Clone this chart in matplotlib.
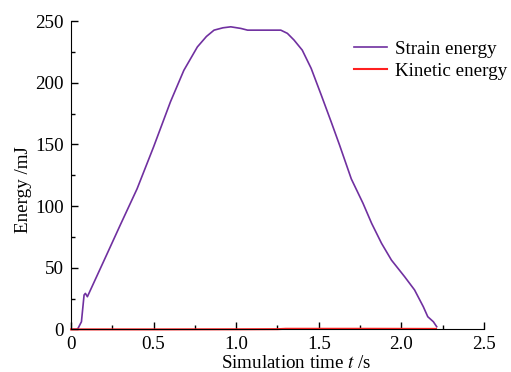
import numpy as np
import matplotlib.pyplot as plt
from matplotlib.ticker import MultipleLocator, FuncFormatter

# Strain energy curve
t_strain = [0.0, 0.035, 0.043, 0.063, 0.079, 0.087, 0.099, 0.215, 0.298, 0.40, 0.50,
            0.602, 0.683, 0.765, 0.82, 0.866, 0.92, 0.967, 1.028, 1.069, 1.17, 1.21,
            1.27, 1.31, 1.35, 1.40, 1.454, 1.515, 1.575, 1.626, 1.697, 1.768, 1.82,
            1.88, 1.94, 2.02, 2.08, 2.133, 2.16, 2.194, 2.214]
e_strain = [0.0, 0.0, 1.0, 6.2, 27.9, 29.2, 26.5, 60.3, 84.6, 114, 148,
            184.5, 210, 229, 237.5, 242.6, 244.5, 245.3, 244, 242.6, 242.6, 242.6,
            242.6, 240, 234.6, 226.4, 211.6, 190, 168.3, 149.4, 122, 102.2, 86,
            69.8, 56.2, 42.7, 32, 18.4, 10.3, 6.2, 2.2]

# Kinetic energy stays near zero
t_kin = [0.0, 0.5, 1.0, 1.25, 1.3, 1.8, 2.21]
e_kin = [0.0, 0.0, 0.1, 0.2, 0.5, 0.5, 0.4]

plt.rcParams['font.family'] = 'Liberation Serif'
plt.rcParams['mathtext.fontset'] = 'stix'

fig = plt.figure(figsize=(5.11, 3.72), dpi=100)
ax = fig.add_axes([0.139, 0.1145, 0.808, 0.829])

ax.plot(t_strain, e_strain, color='#7030a0', lw=1.2, label='Strain energy')
ax.plot(t_kin, e_kin, color='#ff2020', lw=1.5, label='Kinetic energy', clip_on=False)

ax.set_xlim(0, 2.5)
ax.set_ylim(0, 250)
ax.xaxis.set_major_locator(MultipleLocator(0.5))
ax.xaxis.set_minor_locator(MultipleLocator(0.25))
ax.yaxis.set_major_locator(MultipleLocator(50))
ax.yaxis.set_minor_locator(MultipleLocator(25))
ax.xaxis.set_major_formatter(FuncFormatter(lambda v, p: '0' if v == 0 else '%.1f' % v))

for side in ['top', 'right']:
    ax.spines[side].set_visible(False)
ax.tick_params(which='both', direction='in', labelsize=13.7, width=1)
ax.tick_params(which='major', length=5)
ax.tick_params(which='minor', length=3)
ax.tick_params(axis='x', pad=5)
ax.tick_params(axis='y', pad=5)

ax.set_xlabel('Simulation time $t$ /s', fontsize=13.7)
ax.set_ylabel('Energy /mJ', fontsize=13.7)
# labels sit a bit off-centre in the reference
ax.xaxis.set_label_coords(0.546, -0.084)
ax.yaxis.set_label_coords(-0.094, 0.453)

ax.legend(loc='upper right', frameon=False, fontsize=13.7, handlelength=1.75,
          handletextpad=0.4, labelspacing=0.25, bbox_to_anchor=(1.097, 0.992))

fig.savefig('out.png', dpi=100)
